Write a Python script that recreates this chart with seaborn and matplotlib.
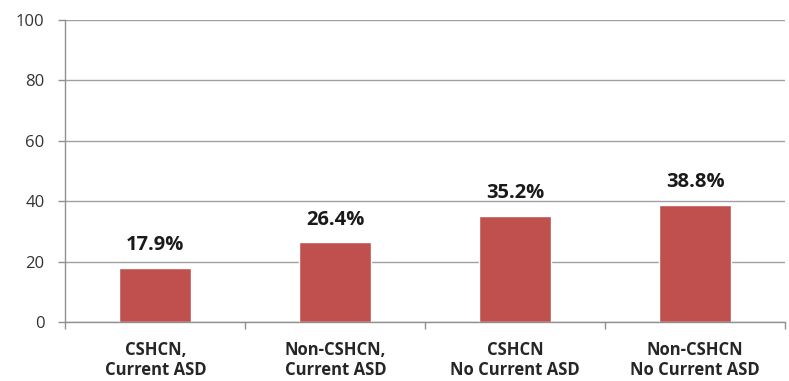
import matplotlib
matplotlib.use("Agg")
import matplotlib.pyplot as plt
import seaborn as sns
import pandas as pd

categories = ["CSHCN,\nCurrent ASD", "Non-CSHCN,\nCurrent ASD", "CSHCN\nNo Current ASD", "Non-CSHCN\nNo Current ASD"]
values = [17.9, 26.4, 35.2, 38.8]
labels = ["17.9%", "26.4%", "35.2%", "38.8%"]
yticks = [0, 20, 40, 60, 80, 100]

sns.set_theme(style="white")
plt.rcParams['font.family'] = ['Open Sans', 'DejaVu Sans']

df = pd.DataFrame({"cat": categories, "val": values})
fig = plt.figure(figsize=(7.89, 3.81), dpi=100)
ax = fig.add_axes([0.083, 0.155, 0.912, 0.793])
sns.barplot(data=df, x="cat", y="val", color="#C0504D", saturation=1, width=0.4, ax=ax)

ax.set_ylim(0, 100)
ax.set_xlim(-0.5, len(categories) - 0.5)
ax.set_yticks(yticks)
ax.set_yticklabels([str(t) for t in yticks], fontsize=12, color="#333333")
ax.yaxis.grid(True, color="#A0A0A0", linewidth=1)
ax.set_axisbelow(True)
ax.set_xlabel("")
ax.set_ylabel("")
ax.tick_params(axis="x", length=0, pad=14)
for t in ax.get_xticklabels():
    t.set_fontweight("bold")
    t.set_fontsize(12)
    t.set_color("#262626")
    t.set_linespacing(1.1)
ax.tick_params(axis="y", left=True, length=5, color="#909090", width=1, pad=10)
ax.set_xticks([i - 0.5 for i in range(len(categories) + 1)], minor=True)
ax.tick_params(axis="x", which="minor", bottom=True, length=5, color="#909090", width=1)

for s in ["top", "right"]:
    ax.spines[s].set_visible(False)
for s in ["left", "bottom"]:
    ax.spines[s].set_color("#909090")
    ax.spines[s].set_linewidth(1)

for i, (v, lab) in enumerate(zip(values, labels)):
    ax.annotate(lab, (i, v), xytext=(0, 9), textcoords="offset points",
                ha="center", va="bottom", fontsize=14.5, fontweight="bold", color="#1a1a1a")

fig.savefig("out.png", dpi=100)
